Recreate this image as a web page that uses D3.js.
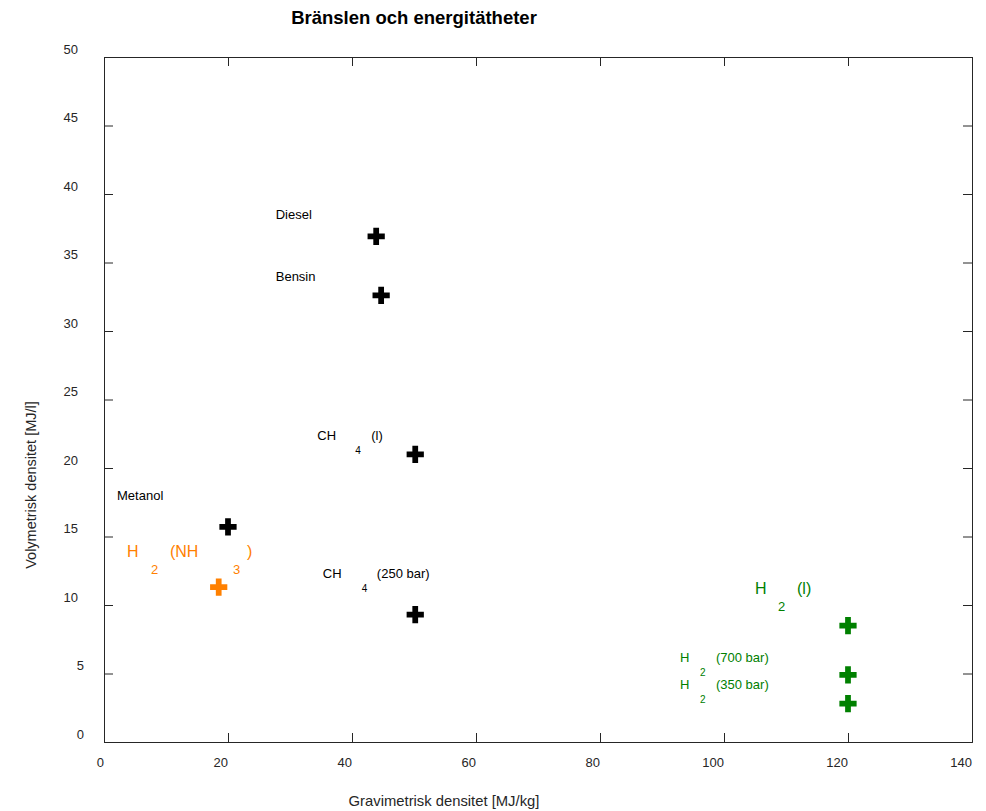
<!DOCTYPE html>
<html>
<head>
<meta charset="utf-8">
<script src="https://cdn.jsdelivr.net/npm/d3@7"></script>
<style>
  body { margin: 0; background: #fff; }
  text { font-family: "Liberation Sans", Arial, sans-serif; }
</style>
</head>
<body>
<div id="chart"></div>
<script>
// Fuel data
var fuels        = ["Diesel", "Bensin", "CH4 (l)", "Metanol", "H2 (NH3)", "CH4 (250 bar)", "H2 (l)", "H2 (700 bar)", "H2 (350 bar)"],
    gravimetric  = [43.9, 44.7, 50.2, 20.0, 18.5, 50.2, 120.0, 120.0, 120.0],
    volumetric   = [36.9, 32.6, 21.0, 15.7, 11.3, 9.3, 8.5, 4.9, 2.8],
    groups       = ["fossil", "fossil", "fossil", "fossil", "ammonia", "fossil", "hydrogen", "hydrogen", "hydrogen"],
    // where each text label is anchored, in data units
    labelX       = [27.7, 27.7, 34.4, 2.1, 3.7, 35.3, 105.0, 92.9, 92.9],
    labelY       = [38.5, 34.0, 22.4, 18.0, 13.9, 12.3, 11.2, 6.2, 4.2],
    xTicks       = [0, 20, 40, 60, 80, 100, 120, 140],
    yTicks       = [0, 5, 10, 15, 20, 25, 30, 35, 40, 45, 50];

var width  = 986,
    height = 811,
    margins = {"top": 57, "bottom": 69, "left": 104, "right": 14};

var colors = {"fossil": "#000000", "ammonia": "#ff8000", "hydrogen": "#008000"};

// label pieces: [text, subscript?, dx in px from label start]
var labelParts = {
  "Diesel":        {size: 13, parts: [["Diesel", false, 0]]},
  "Bensin":        {size: 13, parts: [["Bensin", false, 0]]},
  "CH4 (l)":       {size: 13, parts: [["CH", false, 0], ["4", true, 38], ["(l)", false, 54]]},
  "Metanol":       {size: 13, parts: [["Metanol", false, 0]]},
  "H2 (NH3)":      {size: 16, parts: [["H", false, 0], ["2", true, 24], ["(NH", false, 43], ["3", true, 106], [")", false, 120]]},
  "CH4 (250 bar)": {size: 13, parts: [["CH", false, 0], ["4", true, 39], ["(250 bar)", false, 54]]},
  "H2 (l)":        {size: 16, parts: [["H", false, 0], ["2", true, 23], ["(l)", false, 42]]},
  "H2 (700 bar)":  {size: 13, parts: [["H", false, 0], ["2", true, 20], ["(700 bar)", false, 36]]},
  "H2 (350 bar)":  {size: 13, parts: [["H", false, 0], ["2", true, 20], ["(350 bar)", false, 36]]}
};

var x = d3.scaleLinear().domain([0, 140]).range([margins.left, width - margins.right]);
var y = d3.scaleLinear().domain([0, 50]).range([height - margins.bottom, margins.top]);

var svg = d3.select("#chart")
  .append("svg")
    .attr("width", width)
    .attr("height", height);

var axisColor = "#262626";

// frame with inward ticks on all four sides
svg.append("g")
  .attr("transform", "translate(0," + y(0) + ")")
  .call(d3.axisBottom(x).tickValues(xTicks).tickSize(-9).tickFormat(""))
  .call(function(g){ g.selectAll("line,path").attr("stroke", axisColor); });

svg.append("g")
  .attr("transform", "translate(0," + y(50) + ")")
  .call(d3.axisTop(x).tickValues(xTicks).tickSize(-9).tickFormat(""))
  .call(function(g){ g.selectAll("line,path").attr("stroke", axisColor); });

svg.append("g")
  .attr("transform", "translate(" + x(0) + ",0)")
  .call(d3.axisLeft(y).tickValues(yTicks).tickSize(-9).tickFormat(""))
  .call(function(g){ g.selectAll("line,path").attr("stroke", axisColor); });

svg.append("g")
  .attr("transform", "translate(" + x(140) + ",0)")
  .call(d3.axisRight(y).tickValues(yTicks).tickSize(-9).tickFormat(""))
  .call(function(g){ g.selectAll("line,path").attr("stroke", axisColor); });

// tick labels
svg.append("g").selectAll("text")
  .data(xTicks)
  .enter()
  .append("text")
    .attr("x", function(d){ return x(d); })
    .attr("y", y(0) + 25)
    .attr("text-anchor", "end")
    .attr("font-size", 13)
    .attr("fill", axisColor)
    .text(function(d){ return d; });

svg.append("g").selectAll("text")
  .data(yTicks)
  .enter()
  .append("text")
    .attr("x", function(d){ return d < 10 ? 84 : 78; })
    .attr("y", function(d){ return y(d) - 8; })
    .attr("dy", "0.35em")
    .attr("text-anchor", "end")
    .attr("font-size", 13)
    .attr("fill", axisColor)
    .text(function(d){ return d; });

// title and axis titles
svg.append("text")
  .attr("x", 414)
  .attr("y", 24)
  .attr("text-anchor", "middle")
  .attr("font-size", 18.5)
  .attr("font-weight", "bold")
  .attr("fill", "#000")
  .text("Bränslen och energitätheter");

svg.append("text")
  .attr("x", 444)
  .attr("y", 806)
  .attr("text-anchor", "middle")
  .attr("font-size", 14.8)
  .attr("fill", axisColor)
  .text("Gravimetrisk densitet [MJ/kg]");

svg.append("text")
  .attr("transform", "translate(36,485) rotate(-90)")
  .attr("text-anchor", "middle")
  .attr("font-size", 14.5)
  .attr("fill", axisColor)
  .text("Volymetrisk densitet [MJ/l]");

// markers
var cross = d3.symbol().type(d3.symbolCross).size(165);

svg.append("g").selectAll("path")
  .data(fuels)
  .enter()
  .append("path")
    .attr("d", cross)
    .attr("transform", function(d, i){ return "translate(" + x(gravimetric[i]) + "," + y(volumetric[i]) + ")"; })
    .attr("fill", function(d, i){ return colors[groups[i]]; });

// labels with octave style subscripts
fuels.forEach(function(f, i){
  var spec = labelParts[f],
      x0 = x(labelX[i]),
      y0 = y(labelY[i]);
  spec.parts.forEach(function(p){
    svg.append("text")
      .attr("x", x0 + p[2])
      .attr("y", p[1] ? y0 + (spec.size > 13 ? 18 : 15) : y0)
      .attr("dy", "0.35em")
      .attr("font-size", p[1] ? spec.size - 3 : spec.size)
      .attr("fill", colors[groups[i]])
      .text(p[0]);
  });
});
</script>
</body>
</html>
